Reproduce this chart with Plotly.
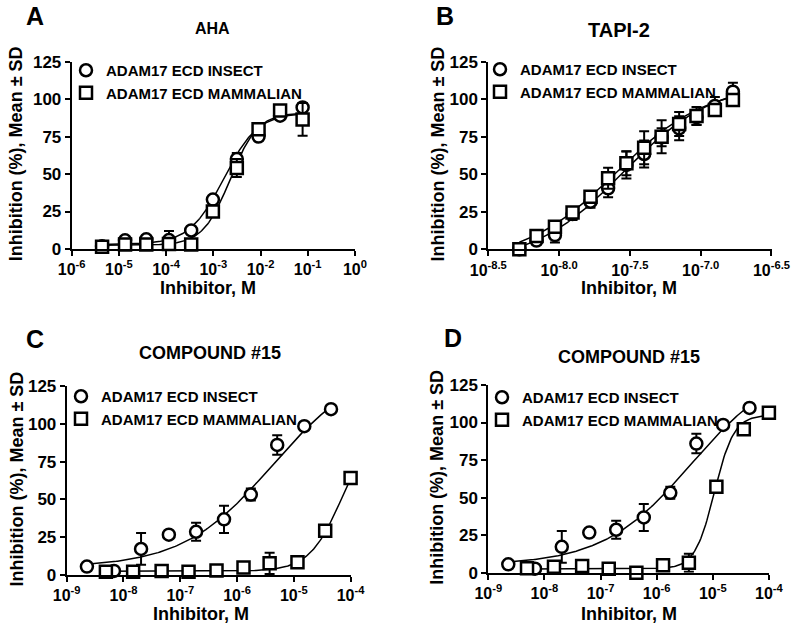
import numpy as np
import plotly.graph_objects as go

# ---------------- data ----------------
# Panel A: AHA
A_conc = [4.4e-6, 1.35e-5, 3.8e-5, 1.15e-4, 3.4e-4, 9.8e-4, 3.15e-3, 9.1e-3, 2.6e-2, 7.8e-2]
A_insect = [1.8, 5.8, 6.5, 6.0, 12.4, 33.0, 60.0, 75.0, 89.0, 94.5]
A_insect_sd = [1, 1.5, 1, 6, 2, 2, 4, 2, 2, 2]
A_mammal = [1.5, 3.0, 3.0, 3.3, 3.0, 25.0, 54.0, 80.0, 92.5, 86.5]
A_mammal_sd = [1, 1, 1, 1, 1.5, 2, 6, 2, 2, 11]

# Panel B: TAPI-2
B_conc = [5.24e-9, 6.93e-9, 9.35e-9, 1.245e-8, 1.667e-8, 2.22e-8, 2.99e-8,
          3.99e-8, 5.3e-8, 7.05e-8, 9.35e-8, 1.26e-7, 1.69e-7]
B_insect = [0, 5.8, 9.5, 23.5, 31.7, 40.6, 56.2, 63.5, 74.6, 80.6, 88.0, 95.5, 105.0]
B_insect_sd = [1, 2, 5, 4, 4, 6, 9, 9, 6, 8, 5, 6, 6]
B_mammal = [0, 8.9, 15.0, 24.6, 35.0, 47.3, 57.3, 67.7, 75.0, 83.5, 88.8, 92.8, 99.5]
B_mammal_sd = [1, 2, 3, 3, 3, 7, 8, 11, 11, 8, 6, 4, 3]

# Panels C and D: Compound #15
CD_insect_conc = [2.27e-9, 6.8e-9, 2.04e-8, 6.3e-8, 1.9e-7, 5.9e-7, 1.75e-6, 5.1e-6, 1.53e-5, 4.52e-5]
CD_insect = [5.6, 2.7, 17.2, 26.7, 28.6, 36.8, 53.2, 86.0, 98.4, 109.7]
CD_insect_sd = [1, 1, 10.5, 1, 6, 9, 4, 6.5, 1.5, 1]
CD_mammal_conc = [4.9e-9, 1.48e-8, 4.7e-8, 1.4e-7, 4.35e-7, 1.3e-6, 3.75e-6, 1.16e-5, 3.57e-5, 1.0e-4]
C_mammal = [2.2, 2.2, 2.6, 2.2, 2.9, 5.0, 7.7, 8.4, 29.3, 64.2]
C_mammal_sd = [1, 1, 1, 1, 1, 2, 7, 1, 1, 1]
D_mammal = [2.9, 4.0, 4.4, 2.7, 0.0, 4.9, 6.7, 57.2, 95.6, 106.5]
D_mammal_sd = [1, 1, 1, 1, 1, 1, 6, 1, 1, 1]

# Fitted 4-parameter logistic curves: [bottom, top, logIC50, hill]
A_insect_fit = [3.0, 91.0, -2.78, 1.2]
A_mammal_fit = [2.5, 91.0, -2.64, 1.5]
B_insect_fit = [-10.0, 112.0, -7.55, 1.35]
B_mammal_fit = [-8.0, 110.0, -7.60, 1.35]
CD_insect_fit = [5.0, 140.0, -5.38, 0.55]
C_mammal_fit = [2.5, 100.0, -4.15, 1.5]
D_mammal_fit = [2.5, 105.0, -4.97, 2.5]

titles = ["AHA", "TAPI-2", "COMPOUND #15", "COMPOUND #15"]
letters = ["A", "B", "C", "D"]
series_names = ["ADAM17 ECD INSECT", "ADAM17 ECD MAMMALIAN"]
y_ticks = [0, 25, 50, 75, 100, 125]
A_xticks = ["-6", "-5", "-4", "-3", "-2", "-1", "0"]
B_xticks = ["-8.5", "-8.0", "-7.5", "-7.0", "-6.5"]
CD_xticks = ["-9", "-8", "-7", "-6", "-5", "-4"]

# ---------------- figure ----------------
W, H = 800, 633
FONT = "Arial, Liberation Sans, sans-serif"


def px_x(p):
    return p / W


def px_y(p):
    return 1 - p / H


def curve(conc, params, n=200):
    bottom, top, logic50, hill = params
    lx = np.linspace(np.log10(min(conc)), np.log10(max(conc)), n)
    y = bottom + (top - bottom) / (1 + 10 ** ((logic50 - lx) * hill))
    return 10 ** lx, y


fig = go.Figure()

panels = [
    dict(ins_x=A_conc, ins_y=A_insect, ins_sd=A_insect_sd, ins_fit=A_insect_fit,
         mam_x=A_conc, mam_y=A_mammal, mam_sd=A_mammal_sd, mam_fit=A_mammal_fit),
    dict(ins_x=B_conc, ins_y=B_insect, ins_sd=B_insect_sd, ins_fit=B_insect_fit,
         mam_x=B_conc, mam_y=B_mammal, mam_sd=B_mammal_sd, mam_fit=B_mammal_fit),
    dict(ins_x=CD_insect_conc, ins_y=CD_insect, ins_sd=CD_insect_sd, ins_fit=CD_insect_fit,
         mam_x=CD_mammal_conc, mam_y=C_mammal, mam_sd=C_mammal_sd, mam_fit=C_mammal_fit),
    dict(ins_x=CD_insect_conc, ins_y=CD_insect, ins_sd=CD_insect_sd, ins_fit=CD_insect_fit,
         mam_x=CD_mammal_conc, mam_y=D_mammal, mam_sd=D_mammal_sd, mam_fit=D_mammal_fit),
]

# pixel geometry of each plot area: (x_left, x_right, y_top, y_bottom)
geom = [
    (71.7, 355.0, 61.7, 249.0),
    (488.3, 771.7, 61.7, 249.3),
    (66.7, 350.7, 386.0, 575.0),
    (488.3, 769.0, 385.0, 572.7),
]
xranges = [[-6, 0], [-8.5, -6.5], [-9, -4], [-9, -4]]
xtick_sets = [A_xticks, B_xticks, CD_xticks, CD_xticks]
legend_pos = [(66, 54), (480, 53), (61, 380), (482, 381)]
title_pos = [(212, 29), (619, 30), (210, 353), (629, 357)]
title_size = [16, 20, 18, 18]
letter_pos = [(35, 16), (445, 16), (35, 339), (453, 338)]
ytitle_x = [16, 437, 16, 437]
xtitle_pos = [(208, 288), (629, 288), (201, 614), (629, 614)]

for i, p in enumerate(panels):
    ax = "" if i == 0 else str(i + 1)
    xref, yref = "x" + ax, "y" + ax
    leg = "legend" + ax
    # fitted curves
    for key in ("ins", "mam"):
        cx, cy = curve(p[key + "_x"], p[key + "_fit"])
        fig.add_trace(go.Scatter(x=cx, y=cy, mode="lines", xaxis=xref, yaxis=yref,
                                 line=dict(color="black", width=1.5), showlegend=False,
                                 hoverinfo="skip", cliponaxis=False))
    # data points (white-filled open symbols)
    for key, sym, name in (("ins", "circle", series_names[0]),
                           ("mam", "square", series_names[1])):
        fig.add_trace(go.Scatter(
            x=p[key + "_x"], y=p[key + "_y"], mode="markers", name=name,
            xaxis=xref, yaxis=yref, legend=leg, cliponaxis=False,
            marker=dict(symbol=sym, size=12, color="white", line=dict(color="black", width=2.5)),
            error_y=dict(type="data", array=p[key + "_sd"], visible=True,
                         color="black", thickness=2, width=5),
        ))

layout = dict(
    template="none",
    width=W, height=H, autosize=False,
    margin=dict(l=0, r=0, t=0, b=0, pad=0, autoexpand=False),
    paper_bgcolor="white", plot_bgcolor="white",
    font=dict(family=FONT, color="black", size=15),
    annotations=[],
)

for i in range(4):
    ax = "" if i == 0 else str(i + 1)
    xl, xr, yt, yb = geom[i]
    lo, hi = xranges[i]
    tickexp = xtick_sets[i]
    tickvals = [10 ** float(t) for t in tickexp]
    ticktext = ["10<sup>%s</sup>" % t for t in tickexp]
    layout["xaxis" + ax] = dict(
        type="log", range=[lo, hi + 0.002], domain=[px_x(xl), px_x(xr)],
        anchor="y" + ax, showline=True, linecolor="black", linewidth=2,
        ticks="outside", ticklen=5, tickwidth=2, tickcolor="black",
        showgrid=False, zeroline=False, tickvals=tickvals, ticktext=ticktext,
        automargin=False,
        tickfont=dict(family=FONT, size=16, weight="bold"),
    )
    layout["yaxis" + ax] = dict(
        range=[0, 125], domain=[px_y(yb), px_y(yt)], anchor="x" + ax,
        showline=True, linecolor="black", linewidth=2,
        ticks="outside", ticklen=5, tickwidth=2, tickcolor="black",
        showgrid=False, zeroline=False, tickvals=y_ticks, automargin=False,
        tickfont=dict(family=FONT, size=17, weight="bold"),
    )
    lx, ly = legend_pos[i]
    layout["legend" + ax] = dict(
        x=px_x(lx), y=px_y(ly), xanchor="left", yanchor="top",
        bgcolor="rgba(0,0,0,0)", borderwidth=0, tracegroupgap=0,
        font=dict(family=FONT, size=15, weight="bold"),
    )
    tx, ty = title_pos[i]
    layout["annotations"].append(dict(
        x=px_x(tx), y=px_y(ty), xref="paper", yref="paper", showarrow=False,
        text=titles[i], font=dict(family=FONT, size=title_size[i], weight="bold"),
        xanchor="center", yanchor="middle"))
    lx2, ly2 = letter_pos[i]
    layout["annotations"].append(dict(
        x=px_x(lx2), y=px_y(ly2), xref="paper", yref="paper", showarrow=False,
        text=letters[i], font=dict(family=FONT, size=25, weight="bold"),
        xanchor="center", yanchor="middle"))
    layout["annotations"].append(dict(
        x=px_x(ytitle_x[i]), y=px_y((yt + yb) / 2 - 1), xref="paper", yref="paper",
        showarrow=False, textangle=-90, text="Inhibition (%), Mean ± SD",
        font=dict(family=FONT, size=18, weight="bold"),
        xanchor="center", yanchor="middle"))
    xx, xy = xtitle_pos[i]
    layout["annotations"].append(dict(
        x=px_x(xx), y=px_y(xy), xref="paper", yref="paper", showarrow=False,
        text="Inhibitor, M", font=dict(family=FONT, size=18, weight="bold"),
        xanchor="center", yanchor="middle"))

fig.update_layout(**layout)
fig.write_html("out.html", config={"displayModeBar": False},
               post_script="document.body.style.margin='0';")
